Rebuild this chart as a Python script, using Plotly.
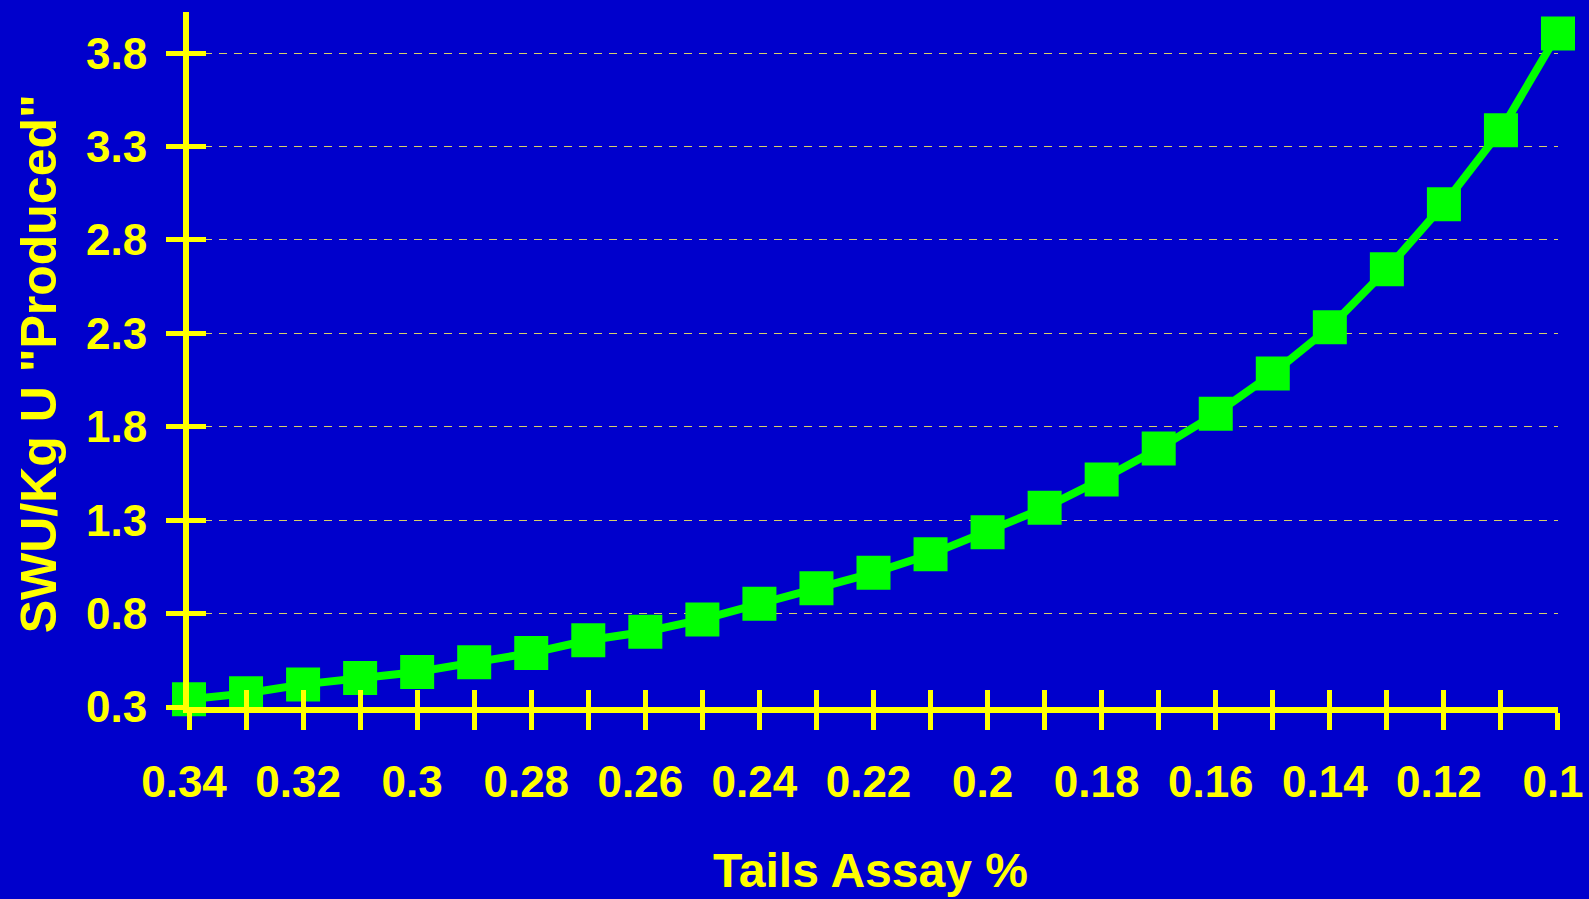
import plotly.graph_objects as go

# Data
tails_assay = [0.34, 0.33, 0.32, 0.31, 0.30, 0.29, 0.28, 0.27, 0.26, 0.25, 0.24, 0.23, 0.22,
               0.21, 0.20, 0.19, 0.18, 0.17, 0.16, 0.15, 0.14, 0.13, 0.12, 0.11, 0.10]
swu_per_kg = [0.341, 0.373, 0.421, 0.455, 0.487, 0.539, 0.589, 0.657, 0.703, 0.769, 0.852, 0.935,
              1.018, 1.117, 1.236, 1.366, 1.518, 1.683, 1.869, 2.085, 2.332, 2.643, 2.991, 3.387, 3.905]

x_tickvals = [0.34, 0.33, 0.32, 0.31, 0.30, 0.29, 0.28, 0.27, 0.26, 0.25, 0.24, 0.23, 0.22,
              0.21, 0.20, 0.19, 0.18, 0.17, 0.16, 0.15, 0.14, 0.13, 0.12, 0.11, 0.10]
x_ticktext = ["0.34", "", "0.32", "", "0.3", "", "0.28", "", "0.26", "", "0.24", "", "0.22",
              "", "0.2", "", "0.18", "", "0.16", "", "0.14", "", "0.12", "", "0.1"]
y_tickvals = [0.3, 0.8, 1.3, 1.8, 2.3, 2.8, 3.3, 3.8]
y_ticktext = ["0.3", "0.8", "1.3", "1.8", "2.3", "2.8", "3.3", "3.8"]

x_title = "Tails Assay %"
y_title = 'SWU/Kg U "Produced"'

BG = "#0000CC"
YEL = "#FFFF00"
GRN = "#00FF00"
FONT = "Liberation Sans, Arial, sans-serif"

X_RANGE = [0.34 + 1e-6, 0.10 - 1e-6]
Y_RANGE = [0.3 - 1e-6, 4.02]

fig = go.Figure()

# invisible helper trace so the overlay axes (inner half of the crossing ticks) are drawn
fig.add_trace(go.Scatter(x=tails_assay, y=swu_per_kg, xaxis="x2", yaxis="y2",
                         mode="markers", marker=dict(opacity=0), hoverinfo="skip",
                         showlegend=False))

fig.add_trace(go.Scatter(
    x=tails_assay, y=swu_per_kg, mode="lines+markers",
    line=dict(color=GRN, width=8),
    marker=dict(symbol="square", size=34, color=GRN, line=dict(width=0)),
    cliponaxis=False, showlegend=False,
))

tickfont = dict(family=FONT, size=44, color=YEL, weight="bold")

fig.update_layout(
    width=1589, height=899,
    paper_bgcolor=BG, plot_bgcolor=BG,
    margin=dict(l=189, r=31, t=12, b=192, autoexpand=False),
    xaxis=dict(range=X_RANGE, tickvals=x_tickvals, ticktext=x_ticktext,
               ticks="outside", ticklen=17, tickwidth=5, tickcolor=YEL,
               showline=True, linecolor=YEL, linewidth=6,
               showgrid=False, zeroline=False, tickfont=tickfont,
               ticklabelstandoff=14, ticklabelshift=5, ticklabeloverflow="allow",
               anchor="y", automargin=False),
    yaxis=dict(range=Y_RANGE, tickvals=y_tickvals, ticktext=y_ticktext,
               ticks="outside", ticklen=17, tickwidth=5, tickcolor=YEL,
               showline=True, linecolor=YEL, linewidth=6,
               showgrid=True, gridcolor="#D6CF6A", gridwidth=1, griddash="8px,7px",
               zeroline=False, tickfont=tickfont, ticklabelstandoff=10,
               ticklabeloverflow="allow", anchor="x", automargin=False),
    xaxis2=dict(range=X_RANGE, tickvals=x_tickvals, overlaying="x", anchor="y2",
                ticks="inside", ticklen=17, tickwidth=5, tickcolor=YEL,
                showticklabels=False, showgrid=False, zeroline=False, showline=False,
                automargin=False),
    yaxis2=dict(range=Y_RANGE, tickvals=y_tickvals, overlaying="y", anchor="x2",
                ticks="inside", ticklen=17, tickwidth=5, tickcolor=YEL,
                showticklabels=False, showgrid=False, zeroline=False, showline=False,
                automargin=False),
    annotations=[
        dict(text=x_title, xref="paper", yref="paper", x=0.498, y=0,
             xanchor="center", yanchor="middle", yshift=-163, showarrow=False,
             font=dict(family=FONT, size=48, color=YEL, weight="bold")),
        dict(text=y_title, xref="paper", yref="paper", x=0, y=0.493,
             xanchor="center", yanchor="middle", xshift=-150, textangle=-90,
             showarrow=False,
             font=dict(family=FONT, size=50, color=YEL, weight="bold")),
    ],
)

fig.write_html(
    "out.html",
    config={"displayModeBar": False},
    post_script="document.body.style.margin='0';document.body.style.overflow='hidden';"
                "document.body.style.background='#0000CC';",
)
